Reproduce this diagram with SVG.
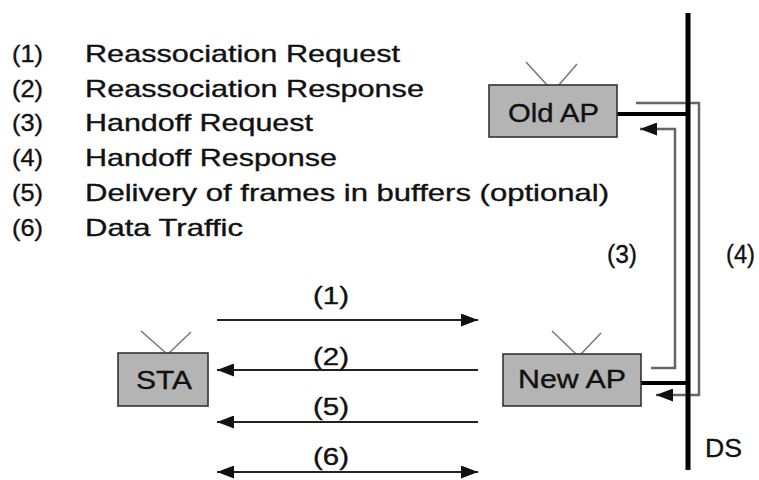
<svg xmlns="http://www.w3.org/2000/svg" width="759" height="480" viewBox="0 0 759 480">
<defs>
<marker id="ah" markerUnits="userSpaceOnUse" markerWidth="17" markerHeight="13" refX="17" refY="6.5" orient="auto-start-reverse">
<path d="M0,0 L17,6.5 L0,13 z" fill="#111"/>
</marker>
</defs>
<style>
text{font-family:"Liberation Sans",Arial,sans-serif;fill:#111;stroke:#111;stroke-width:0.35}
.leg{font-size:24px}
.lbl{font-size:23px}
.big{font-size:26px}
.box{fill:#b4b4b4;stroke:#333;stroke-width:1.6}
.ant{stroke:#777;stroke-width:1.5;fill:none}
.msg{stroke:#222;stroke-width:2;fill:none}
.ds{stroke:#666;stroke-width:2.5;fill:none}
.thick{stroke:#000;stroke-width:4;fill:none}
</style>
<rect width="759" height="480" fill="#fff"/>
<g id="legend">
<text class="leg" x="12" y="62" textLength="31" lengthAdjust="spacingAndGlyphs">(1)</text>
<text class="leg" x="85" y="62" textLength="315" lengthAdjust="spacingAndGlyphs">Reassociation Request</text>
<text class="leg" x="12" y="97" textLength="31" lengthAdjust="spacingAndGlyphs">(2)</text>
<text class="leg" x="85" y="97" textLength="339" lengthAdjust="spacingAndGlyphs">Reassociation Response</text>
<text class="leg" x="12" y="131" textLength="31" lengthAdjust="spacingAndGlyphs">(3)</text>
<text class="leg" x="85" y="131" textLength="228" lengthAdjust="spacingAndGlyphs">Handoff Request</text>
<text class="leg" x="12" y="166" textLength="31" lengthAdjust="spacingAndGlyphs">(4)</text>
<text class="leg" x="85" y="166" textLength="252" lengthAdjust="spacingAndGlyphs">Handoff Response</text>
<text class="leg" x="12" y="201" textLength="31" lengthAdjust="spacingAndGlyphs">(5)</text>
<text class="leg" x="85" y="201" textLength="524" lengthAdjust="spacingAndGlyphs">Delivery of frames in buffers (optional)</text>
<text class="leg" x="12" y="236" textLength="31" lengthAdjust="spacingAndGlyphs">(6)</text>
<text class="leg" x="85" y="236" textLength="158" lengthAdjust="spacingAndGlyphs">Data Traffic</text>
</g>
<g id="connectors">
<line class="thick" x1="617" y1="114" x2="688" y2="114"/>
<line class="thick" x1="641" y1="383" x2="688" y2="383"/>
<path class="ds" d="M651,368 H675 V129 H640" marker-end="url(#ah)"/>
<path class="ds" d="M636,103 H699 V395 H656" marker-end="url(#ah)"/>
<line class="msg" x1="217" y1="320" x2="478" y2="320" marker-end="url(#ah)"/>
<line class="msg" x1="478" y1="370" x2="217" y2="370" marker-end="url(#ah)"/>
<line class="msg" x1="478" y1="422" x2="217" y2="422" marker-end="url(#ah)"/>
<line class="msg" x1="217" y1="472" x2="478" y2="472" marker-start="url(#ah)" marker-end="url(#ah)"/>
<text class="lbl" x="313" y="304" textLength="36" lengthAdjust="spacingAndGlyphs">(1)</text>
<text class="lbl" x="313" y="365" textLength="36" lengthAdjust="spacingAndGlyphs">(2)</text>
<text class="lbl" x="313" y="415" textLength="36" lengthAdjust="spacingAndGlyphs">(5)</text>
<text class="lbl" x="313" y="465" textLength="36" lengthAdjust="spacingAndGlyphs">(6)</text>
<text class="big" x="607" y="263" textLength="30" lengthAdjust="spacingAndGlyphs">(3)</text>
<text class="big" x="726" y="263" textLength="29" lengthAdjust="spacingAndGlyphs">(4)</text>
</g>
<g id="ds">
<line x1="688" y1="13" x2="688" y2="470" stroke="#000" stroke-width="5"/>
<text class="big" x="705" y="457" textLength="37" lengthAdjust="spacingAndGlyphs">DS</text>
</g>
<g id="old-ap">
<line class="ant" x1="526" y1="62" x2="548" y2="86"/>
<line class="ant" x1="577" y1="64" x2="558" y2="86"/>
<rect class="box" x="489" y="85" width="128" height="52"/>
<text class="big" x="508" y="122" textLength="91" lengthAdjust="spacingAndGlyphs">Old AP</text>
</g>
<g id="new-ap">
<line class="ant" x1="552" y1="331" x2="576" y2="354"/>
<line class="ant" x1="601" y1="333" x2="581" y2="354"/>
<rect class="box" x="503" y="354" width="138" height="52"/>
<text class="big" x="518" y="388" textLength="108" lengthAdjust="spacingAndGlyphs">New AP</text>
</g>
<g id="sta">
<line class="ant" x1="141" y1="331" x2="166" y2="353"/>
<line class="ant" x1="191" y1="332" x2="169" y2="353"/>
<rect class="box" x="118" y="353" width="90" height="53"/>
<text class="big" x="136" y="389" textLength="56" lengthAdjust="spacingAndGlyphs">STA</text>
</g>
</svg>
